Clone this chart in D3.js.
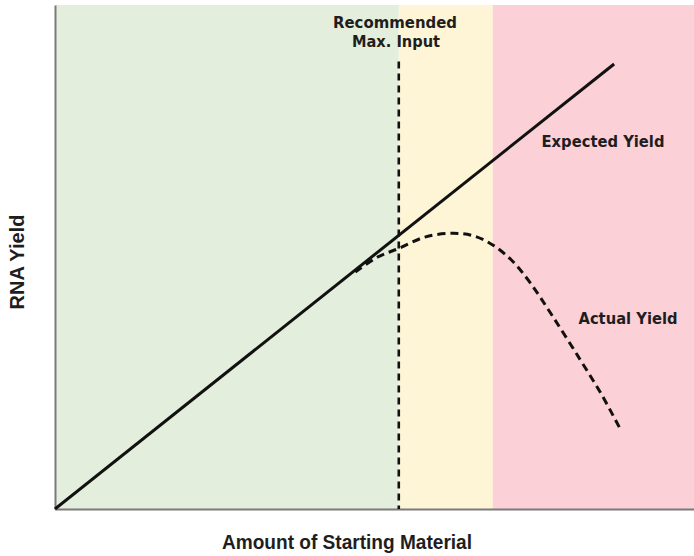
<!DOCTYPE html>
<html>
<head>
<meta charset="utf-8">
<script src="https://cdn.jsdelivr.net/npm/d3@7"></script>
<style>
  body { margin: 0; background: #fff; }
  text { font-family: "DejaVu Sans", sans-serif; font-weight: bold; fill: #1e1e1e; }
  text.axis-title { font-family: "Liberation Sans", Arial, sans-serif; }
</style>
</head>
<body>
<div id="chart"></div>
<script>
// zones along the x axis (amount of starting material, arbitrary units)
const zoneNames = ['safe', 'caution', 'overload'];
const zoneStarts = [0, 53.8, 68.5];
const zoneEnds = [53.8, 68.5, 100];
const zoneColors = ['#e3efdc', '#fdf5d6', '#fbd0d6'];

const recommendedMax = 53.8;

// expected yield: straight line
const expectedX = [0, 87.5];
const expectedY = [0, 88.3];

// actual yield: departs from the line, peaks, then drops
const actualX = [47, 50.5, 53.8, 58, 62.3, 65.5, 68.5, 71.5, 74.3, 78, 82.2, 85.5, 88.4];
const actualY = [47, 50, 51.7, 54, 54.7, 54.2, 52.4, 49.3, 45, 38, 29.6, 22.8, 16];

const width = 694;
const height = 556;
const margin = { top: 5, right: 0, bottom: 47, left: 55 };

const svg = d3.select('#chart')
  .append('svg')
  .attr('width', width)
  .attr('height', height);

const xScale = d3.scaleLinear()
  .domain([0, 100])
  .range([margin.left, width - margin.right]);

const yScale = d3.scaleLinear()
  .domain([0, 100])
  .range([height - margin.bottom, margin.top]);

// coloured background zones
svg.selectAll('rect.zone')
  .data(zoneNames)
  .enter()
  .append('rect')
  .attr('class', 'zone')
  .attr('x', (d, i) => xScale(zoneStarts[i]))
  .attr('y', yScale(100))
  .attr('width', (d, i) => xScale(zoneEnds[i]) - xScale(zoneStarts[i]))
  .attr('height', yScale(0) - yScale(100))
  .attr('fill', (d, i) => zoneColors[i]);

// axes (plain lines, no ticks)
svg.append('g')
  .attr('transform', `translate(0, ${yScale(0)})`)
  .call(d3.axisBottom(xScale).tickValues([]).tickSizeOuter(0))
  .call(g => g.select('.domain').attr('stroke', '#7a7a7a').attr('stroke-width', 2));

svg.append('g')
  .attr('transform', `translate(${xScale(0)}, 0)`)
  .call(d3.axisLeft(yScale).tickValues([]).tickSizeOuter(0))
  .call(g => g.select('.domain').attr('stroke', '#7a7a7a').attr('stroke-width', 2));

// recommended max input marker
svg.append('line')
  .attr('x1', xScale(recommendedMax))
  .attr('x2', xScale(recommendedMax))
  .attr('y1', yScale(88.8))
  .attr('y2', yScale(0))
  .attr('stroke', '#111')
  .attr('stroke-width', 2.6)
  .attr('stroke-dasharray', '7,5');

const line = d3.line()
  .x(d => xScale(d[0]))
  .y(d => yScale(d[1]));

svg.append('path')
  .datum(d3.zip(expectedX, expectedY))
  .attr('d', line)
  .attr('fill', 'none')
  .attr('stroke', '#111')
  .attr('stroke-width', 3);

svg.append('path')
  .datum(d3.zip(actualX, actualY))
  .attr('d', line.curve(d3.curveCatmullRom))
  .attr('fill', 'none')
  .attr('stroke', '#111')
  .attr('stroke-width', 3)
  .attr('stroke-dasharray', '8,5');

// labels
function label(x, y, size, len, txt) {
  return svg.append('text')
    .attr('x', x)
    .attr('y', y)
    .attr('text-anchor', 'middle')
    .attr('textLength', len)
    .attr('lengthAdjust', 'spacingAndGlyphs')
    .style('font-size', size + 'px')
    .text(txt);
}

label(395, 28, 15.5, 124, 'Recommended');
label(396, 47, 15.5, 88, 'Max. Input');
label(603, 147, 15.5, 123, 'Expected Yield');
label(628, 324, 15.5, 99, 'Actual Yield');
label(347, 549, 21, 250, 'Amount of Starting Material')
  .attr('class', 'axis-title');

svg.append('text')
  .attr('class', 'axis-title')
  .attr('transform', `translate(24, ${yScale(49)}) rotate(-90)`)
  .attr('text-anchor', 'middle')
  .style('font-size', '20px')
  .text('RNA Yield');
</script>
</body>
</html>
